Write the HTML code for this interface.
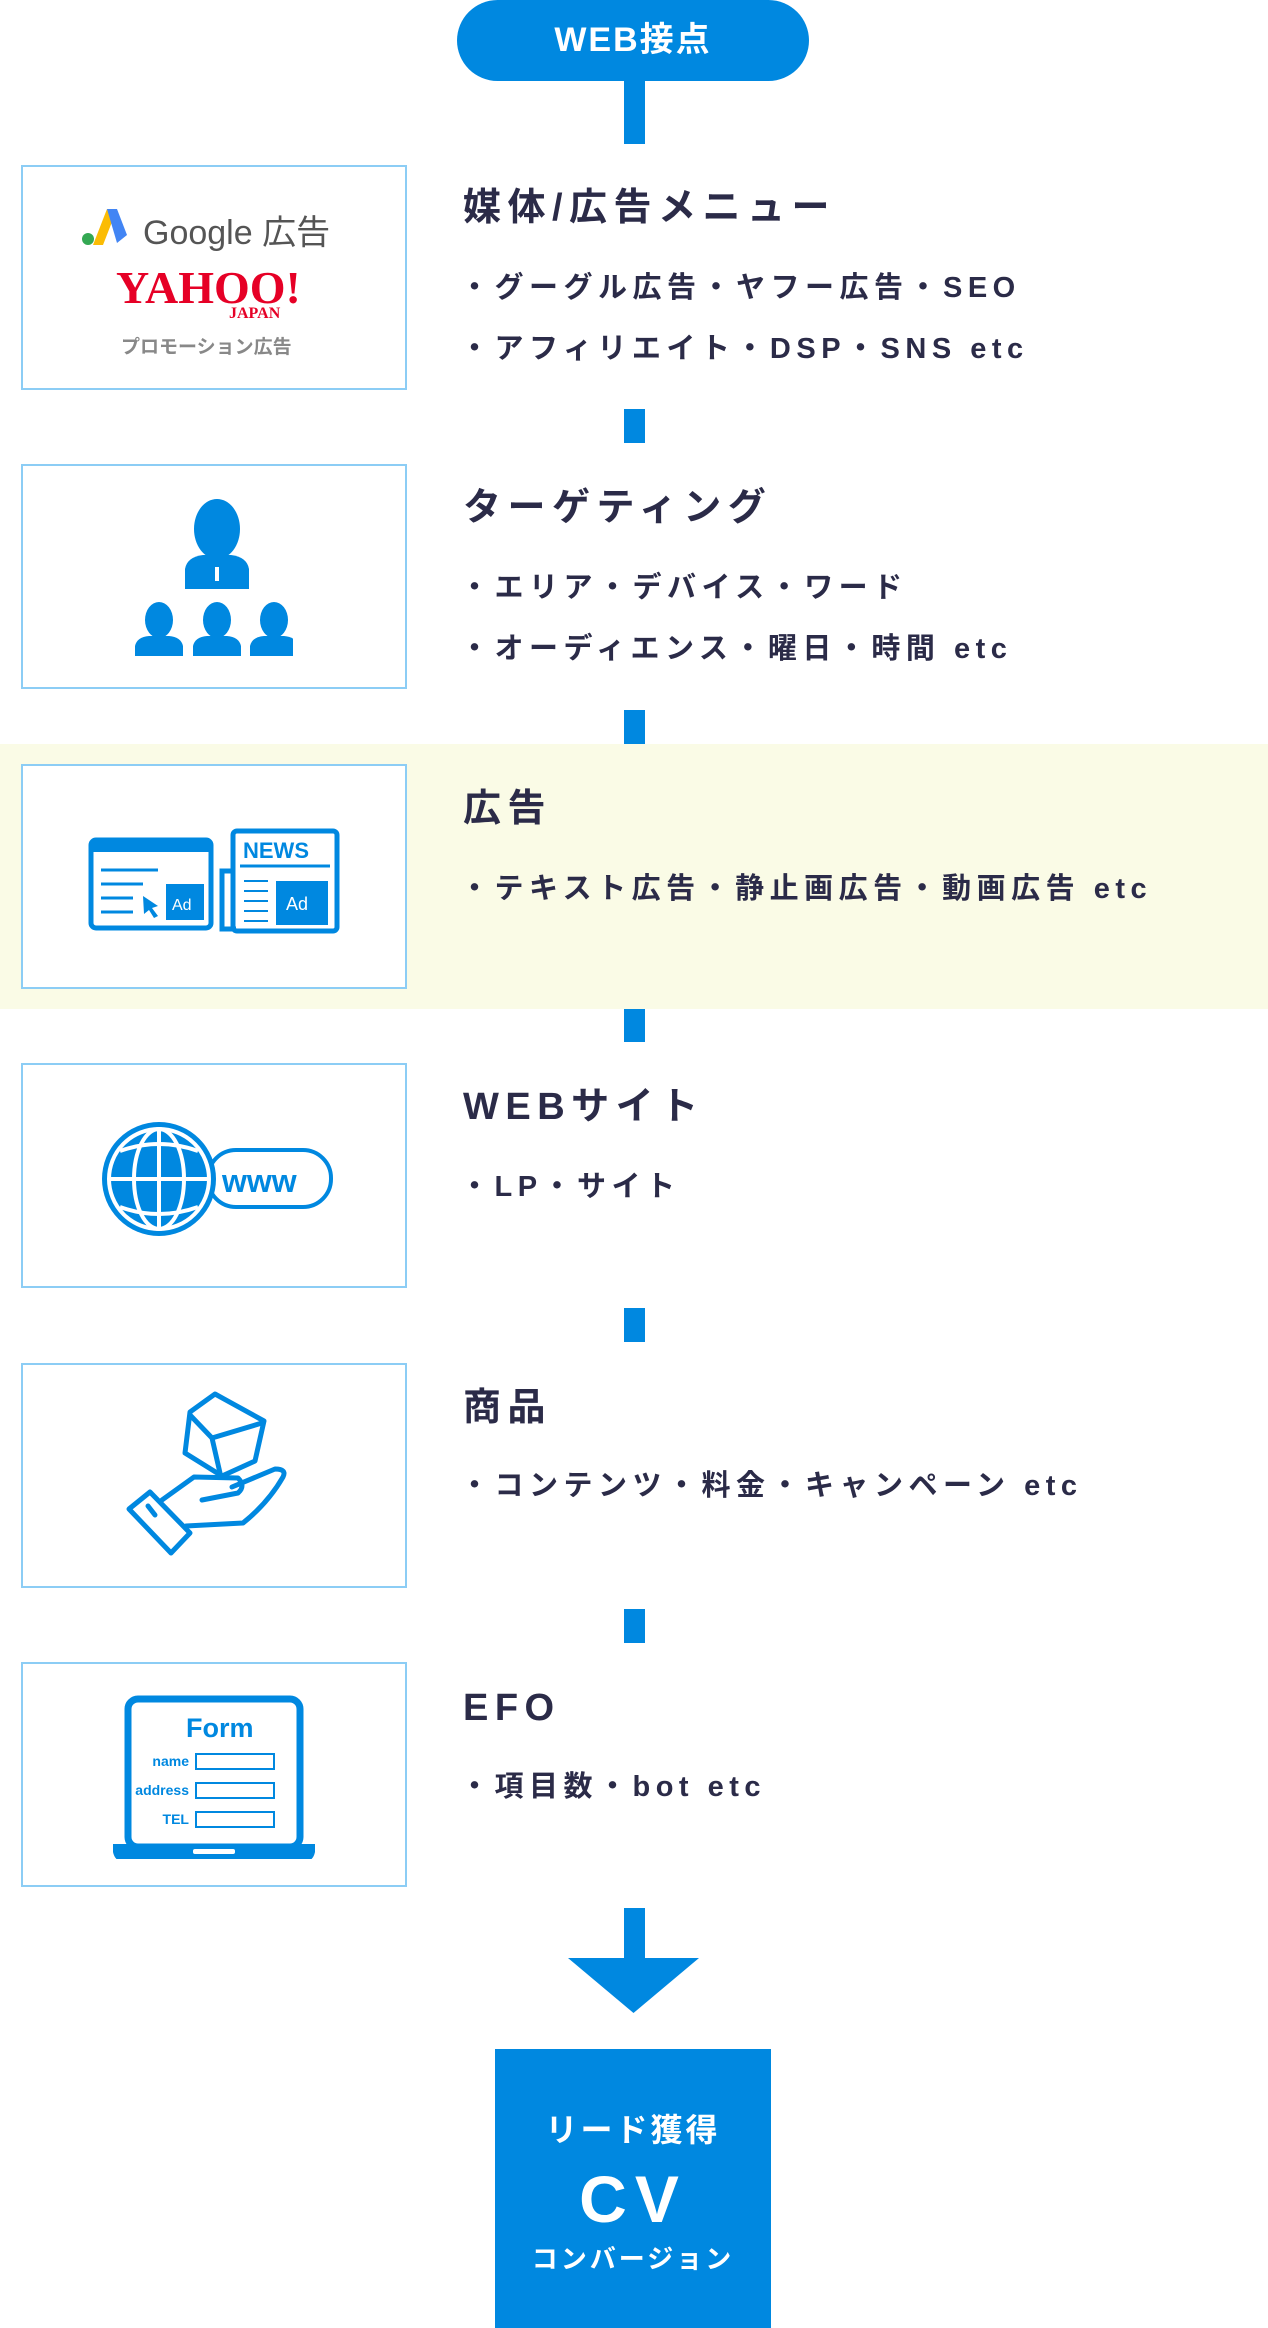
<!DOCTYPE html>
<html><head><meta charset="utf-8">
<style>
*{margin:0;padding:0;box-sizing:border-box}
body{width:1268px;height:2328px;background:#fff;position:relative;overflow:hidden;font-family:"Liberation Sans","Noto Sans CJK JP",sans-serif;color:#2b2b48}
.a{position:absolute}
.c{position:absolute;left:624px;width:21px;background:#0088e0}
.box{position:absolute;left:21px;width:386px;height:225px;border:2px solid #8ccdf5;background:#fff}
.t{position:absolute;left:463px;font-size:38px;font-weight:bold;letter-spacing:6.5px;line-height:1;white-space:nowrap}
.b{position:absolute;left:460px;font-size:29px;font-weight:bold;letter-spacing:5.5px;line-height:1;white-space:nowrap}
svg{position:absolute}
</style></head><body>
<div class="a" style="left:0;top:744px;width:1268px;height:265px;background:#fafbe6"></div>
<div class="a" style="left:457px;top:0;width:352px;height:81px;border-radius:41px;background:#0088e0;color:#fff;font-size:34px;font-weight:bold;text-align:center;line-height:81px;letter-spacing:2px">WEB接点</div>
<div class="c" style="top:81px;height:63px"></div>
<div class="c" style="top:409px;height:34px"></div>
<div class="c" style="top:710px;height:34px"></div>
<div class="c" style="top:1009px;height:33px"></div>
<div class="c" style="top:1308px;height:34px"></div>
<div class="c" style="top:1609px;height:34px"></div>
<div class="c" style="top:1908px;height:52px"></div>
<svg style="left:568px;top:1958px" width="131" height="55"><polygon points="0,0 131,0 65.5,55" fill="#0088e0"/></svg>

<!-- box1 -->
<div class="box" style="top:165px">
 <svg style="left:56px;top:38px" width="50" height="42"><polygon points="14,40 28,4 38,4 24,40" fill="#fbbc04"/><polygon points="28,4 38,4 48,30 38,38" fill="#4285f4"/><circle cx="9" cy="34" r="6" fill="#34a853"/></svg>
 <div class="a" style="left:120px;top:38px;font-size:34px;color:#555;white-space:nowrap">Google 広告</div>
 <div class="a" style="left:93px;top:98px;font-family:'Liberation Serif',serif;font-size:46px;font-weight:bold;color:#e60026;letter-spacing:0px;line-height:1">YAHOO!</div>
 <div class="a" style="left:206px;top:138px;font-family:'Liberation Serif',serif;font-size:16px;font-weight:bold;color:#e60026">JAPAN</div>
 <div class="a" style="left:98px;top:165px;font-size:19px;font-weight:bold;color:#888;white-space:nowrap">プロモーション広告</div>
</div>
<div class="t" style="top:189px">媒体/広告メニュー</div>
<div class="b" style="top:274px">・グーグル広告・ヤフー広告・SEO</div>
<div class="b" style="top:335px">・アフィリエイト・DSP・SNS etc</div>

<!-- box2 -->
<div class="box" style="top:464px">
 <svg style="left:90px;top:25px" width="180" height="170" fill="#0088e0">
  <ellipse cx="104" cy="38" rx="23" ry="30"/><path d="M72,98 L72,78 Q74,66 90,64 L118,64 Q134,66 136,78 L136,98 Z"/>
  <rect x="102" y="76" width="4" height="14" fill="#fff"/>
  <g id="p"><ellipse cx="46" cy="129" rx="14" ry="18"/><path d="M22,165 L22,155 Q24,146 36,145 L56,145 Q68,146 70,155 L70,165 Z"/></g>
  <use href="#p" x="58"/><use href="#p" x="115"/>
 </svg>
</div>
<div class="t" style="top:489px">ターゲティング</div>
<div class="b" style="top:574px">・エリア・デバイス・ワード</div>
<div class="b" style="top:635px">・オーディエンス・曜日・時間 etc</div>

<!-- box3 -->
<div class="box" style="top:764px">
 <svg style="left:65px;top:60px" width="270" height="110">
  <rect x="3" y="14" width="120" height="88" rx="5" fill="none" stroke="#0088e0" stroke-width="5"/>
  <rect x="3" y="14" width="120" height="12" fill="#0088e0"/>
  <g stroke="#0088e0" stroke-width="3"><line x1="13" y1="44" x2="70" y2="44"/><line x1="13" y1="58" x2="55" y2="58"/><line x1="13" y1="72" x2="45" y2="72"/><line x1="13" y1="86" x2="45" y2="86"/></g>
  <polygon points="55,70 70,80 64,82 70,90 66,92 61,84 56,88" fill="#0088e0"/>
  <rect x="78" y="58" width="38" height="36" fill="#0088e0"/><text x="84" y="84" font-size="16" fill="#fff" font-family="Liberation Sans">Ad</text>
  <rect x="145" y="5" width="104" height="100" rx="4" fill="none" stroke="#0088e0" stroke-width="5"/>
  <path d="M145,45 L134,45 L134,103 L148,103" fill="none" stroke="#0088e0" stroke-width="5"/>
  <text x="155" y="32" font-size="22" fill="#0088e0" font-family="Liberation Sans" font-weight="bold">NEWS</text>
  <line x1="152" y1="40" x2="242" y2="40" stroke="#0088e0" stroke-width="3"/>
  <g stroke="#0088e0" stroke-width="2"><line x1="156" y1="55" x2="180" y2="55"/><line x1="156" y1="65" x2="180" y2="65"/><line x1="156" y1="75" x2="180" y2="75"/><line x1="156" y1="85" x2="180" y2="85"/><line x1="156" y1="95" x2="180" y2="95"/></g>
  <rect x="188" y="55" width="52" height="44" fill="#0088e0"/><text x="198" y="84" font-size="18" fill="#fff" font-family="Liberation Sans">Ad</text>
 </svg>
</div>
<div class="t" style="top:790px">広告</div>
<div class="b" style="top:875px">・テキスト広告・静止画広告・動画広告 etc</div>

<!-- box4 -->
<div class="box" style="top:1063px">
 <svg style="left:75px;top:50px" width="260" height="130">
  <rect x="110" y="35" width="123" height="57" rx="28" fill="#fff" stroke="#0088e0" stroke-width="4"/>
  <text x="124" y="77" font-size="32" font-weight="bold" fill="#0088e0" font-family="Liberation Sans">www</text>
  <circle cx="61" cy="64" r="57" fill="#0088e0"/>
  <g fill="none" stroke="#fff" stroke-width="4"><circle cx="61" cy="64" r="50"/><ellipse cx="61" cy="64" rx="25" ry="50"/><line x1="61" y1="14" x2="61" y2="114"/><line x1="11" y1="64" x2="111" y2="64"/><path d="M22,36 Q61,22 100,36"/><path d="M22,92 Q61,106 100,92"/></g>
 </svg>
</div>
<div class="t" style="top:1088px">WEBサイト</div>
<div class="b" style="top:1173px">・LP・サイト</div>

<!-- box5 -->
<div class="box" style="top:1363px"></div>
<svg style="left:0;top:1363px" width="420" height="225" fill="none" stroke="#0088e0" stroke-width="5" stroke-linejoin="round" stroke-linecap="round">
 <polygon points="215,31 264,58 255,98 222,113 185,90 190,49"/>
 <path d="M190,52 L212,75 L262,60 M212,75 L220,110"/>
 <polygon points="129,146 150,129 190,170 171,190"/>
 <line x1="148" y1="143" x2="155" y2="152"/>
 <path d="M162,137 L194,114 L238,115 Q246,123 238,130 L202,137"/>
 <path d="M232,124 L275,106 Q287,106 283,114 Q268,140 243,160 L186,163"/>
</svg>
<div class="t" style="top:1389px">商品</div>
<div class="b" style="top:1472px">・コンテンツ・料金・キャンペーン etc</div>

<!-- box6 -->
<div class="box" style="top:1662px">
 <svg style="left:90px;top:30px" width="210" height="165">
  <rect x="15" y="5" width="172" height="148" rx="10" fill="none" stroke="#0088e0" stroke-width="7"/>
  <text x="73" y="43" font-size="27" font-weight="bold" fill="#0088e0" font-family="Liberation Sans">Form</text>
  <g font-size="14" font-weight="bold" fill="#0088e0" font-family="Liberation Sans" text-anchor="end"><text x="76" y="72">name</text><text x="76" y="101">address</text><text x="76" y="130">TEL</text></g>
  <g fill="none" stroke="#0088e0" stroke-width="2"><rect x="83" y="60" width="78" height="15"/><rect x="83" y="89" width="78" height="15"/><rect x="83" y="118" width="78" height="15"/></g>
  <path d="M0,150 L202,150 L202,158 Q200,168 190,168 L12,168 Q2,168 0,158 Z" fill="#0088e0"/>
  <rect x="80" y="155" width="42" height="5" rx="2" fill="#fff"/>
 </svg>
</div>
<div class="t" style="top:1689px">EFO</div>
<div class="b" style="top:1773px">・項目数・bot etc</div>

<!-- CV -->
<div class="a" style="left:495px;top:2049px;width:276px;height:279px;background:#0088e0;color:#fff;text-align:center;font-weight:bold">
 <div class="a" style="left:0;width:276px;top:64px;font-size:32px;letter-spacing:3px;line-height:34px">リード獲得</div>
 <div class="a" style="left:0;width:276px;top:115px;font-size:66px;letter-spacing:8px;line-height:70px">CV</div>
 <div class="a" style="left:0;width:276px;top:195px;font-size:26px;letter-spacing:3px;line-height:30px">コンバージョン</div>
</div>
</body></html>
